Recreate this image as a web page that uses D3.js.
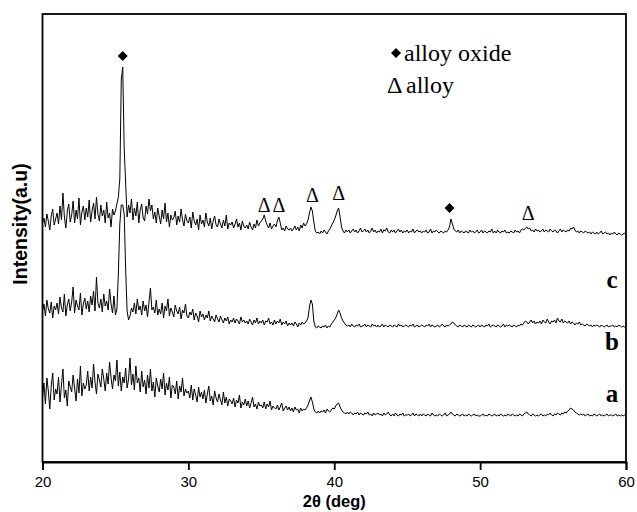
<!DOCTYPE html>
<html>
<head>
<meta charset="utf-8">
<script src="https://cdn.jsdelivr.net/npm/d3@7"></script>
<style>
  html, body { margin: 0; padding: 0; background: #fff; }
  svg { display: block; }
</style>
</head>
<body>
<svg id="chart" width="637" height="512"></svg>
<script>
// ---- data (intensity in a.u., curves already stacked) ----
const thetaStart = 20, thetaStep = 0.1; // sampling grid of the diffractograms
const seriesC = [
226,231,222,235,228,219,233,240,224,230,
236,225,243,229,256,232,221,238,245,227,
234,248,226,239,230,251,224,237,243,229,
241,232,249,227,238,246,230,252,235,228,
244,233,239,226,247,231,236,222,240,234,
238,245,252,270,369,382,300,266,232,244,
236,250,229,241,233,247,226,239,245,231,
228,243,235,250,238,244,230,237,226,241,
233,225,239,230,246,227,236,222,234,229,
231,238,224,233,227,240,229,223,235,228,
226,232,221,237,228,224,230,219,234,225,
229,222,236,227,223,231,220,228,233,224,
222,230,225,221,229,223,234,220,226,224,
227,221,225,230,222,226,219,228,223,221,
224,220,227,222,219,225,221,229,223,226,
228,230,234,228,224,221,226,220,223,225,
222,228,232,226,219,221,218,223,220,219,
221,218,220,223,219,222,218,224,221,226,
223,225,229,236,242,238,227,218,216,217,
215,218,216,219,217,215,218,220,223,226,
229,233,238,241,232,222,218,216,219,217,
219,216,218,220,217,219,216,218,221,217,
218,220,217,219,216,218,221,217,219,216,
218,217,220,216,219,218,221,217,216,219,
217,219,216,218,220,217,219,216,218,217,
219,216,218,217,220,216,218,219,217,218,
216,218,217,219,216,217,220,216,218,217,
219,217,216,218,217,216,218,217,219,222,
230,225,220,218,217,219,216,218,217,216,
218,217,216,219,217,218,216,217,219,216,
217,219,216,218,217,216,218,217,220,216,
218,216,219,217,216,218,217,219,216,217,
216,218,217,216,219,217,218,216,219,220,
219,221,222,220,221,218,219,217,220,218,
219,217,218,220,217,219,218,217,220,218,
217,219,218,216,218,220,217,219,218,217,
219,218,221,220,222,219,217,218,216,218,
217,216,218,217,216,217,215,217,216,215,
217,215,216,218,215,216,217,215,216,214,
216,215,217,215,214,216,215,214,215,216,
214];
const seriesB = [
138,145,133,149,140,136,147,131,143,139,
146,135,152,141,137,155,133,144,150,138,
147,162,136,149,143,139,156,134,145,151,
140,148,137,153,144,158,138,172,146,141,
150,137,155,143,148,139,160,145,136,153,
134,140,175,225,244,244,235,180,138,129,
133,141,137,146,135,150,139,143,134,148,
138,144,132,147,161,139,142,136,149,134,
140,135,146,131,143,138,150,133,141,137,
132,144,138,135,142,130,139,136,145,133,
131,137,134,140,129,136,133,127,138,132,
135,129,134,131,138,128,133,130,127,134,
130,127,133,129,126,131,128,132,125,129,
127,131,126,130,128,125,132,127,129,126,
128,125,130,127,124,129,126,131,125,128,
126,129,124,128,127,131,125,127,124,129,
125,128,126,130,124,127,125,128,123,126,
124,126,123,127,125,122,126,124,127,125,
126,128,131,142,149,145,128,122,121,123,
122,121,123,122,124,121,123,122,125,127,
129,131,135,139,136,131,128,126,124,123,
124,122,125,123,122,124,123,125,122,123,
123,125,122,124,123,122,125,123,124,122,
124,122,123,125,122,124,123,122,124,123,
122,124,123,122,125,123,124,122,123,124,
123,122,124,123,125,122,123,124,122,123,
124,123,122,124,123,125,122,124,123,122,
123,124,122,123,125,123,122,124,123,124,
125,127,126,124,123,122,124,123,122,124,
123,122,124,123,122,124,123,122,123,124,
122,124,123,122,124,123,125,122,123,124,
123,122,124,123,122,123,125,122,124,123,
124,123,122,124,123,122,124,123,125,124,
126,128,127,125,127,129,126,128,125,127,
126,128,125,129,127,126,130,127,125,128,
127,129,126,131,128,127,130,126,128,127,
126,128,125,127,126,124,126,125,127,124,
125,124,123,125,124,123,124,122,124,123,
124,123,122,124,123,122,123,124,122,123,
123,124,122,123,122,124,123,122,123,122,
123];
const seriesA = [
52,66,45,71,58,40,63,76,49,60,
55,72,47,64,80,51,59,43,68,62,
57,74,61,48,70,56,83,53,66,60,
64,78,58,72,61,85,67,55,75,69,
62,80,70,58,76,65,87,71,60,74,
68,89,63,77,58,72,66,81,61,70,
91,64,75,59,83,66,71,57,78,62,
69,55,74,61,80,58,67,52,71,63,
57,70,60,76,54,66,59,72,51,64,
62,55,68,50,63,57,71,53,60,56,
58,51,64,49,60,54,47,62,52,57,
50,59,46,55,63,48,53,44,58,51,
47,55,49,44,57,46,52,43,50,48,
45,51,42,49,46,54,41,47,44,50,
43,48,41,46,52,42,45,40,47,43,
44,41,47,40,45,42,48,39,43,41,
40,44,39,42,46,38,41,43,39,42,
38,41,37,42,39,40,36,41,38,40,
39,41,44,48,52,47,40,37,36,38,
36,38,37,39,36,40,38,37,39,41,
40,43,45,46,42,39,37,36,35,37,
35,37,36,34,36,35,37,34,36,35,
34,36,35,37,34,35,33,36,34,35,
36,34,35,33,36,34,35,37,34,33,
35,33,36,34,33,35,34,36,33,34,
34,35,33,34,36,33,35,34,33,35,
33,35,34,33,35,34,33,36,34,33,
34,33,35,34,33,34,36,33,34,35,
37,35,34,33,35,34,33,34,35,33,
34,33,35,34,33,34,35,33,34,33,
33,34,35,33,34,33,35,34,33,34,
35,33,34,33,35,34,33,34,33,35,
34,33,35,34,33,34,33,35,34,33,
35,36,37,35,34,33,35,34,33,34,
33,34,35,33,34,33,35,34,36,34,
33,35,34,36,35,34,36,35,37,36,
38,39,41,40,39,37,36,35,34,35,
34,35,33,34,35,33,34,33,35,34,
33,34,35,33,34,33,34,35,33,34,
34,33,34,35,33,34,33,34,33,34,
33];
const seriesNames = ["a", "b", "c"];
const seriesLabelLevel = [47, 99, 161];
const xTicks = [20, 30, 40, 50, 60];
// peak markers: "d" = alloy oxide (diamond), "t" = alloy (delta)
const markerTheta = [25.5, 35.2, 36.2, 38.5, 40.3, 47.9, 53.3];
const markerLevel = [393, 244, 244, 254, 256, 241, 236];
const markerType  = ["d", "t", "t", "t", "t", "d", "t"];
const legendItems = ["alloy oxide", "alloy"];

// ---- layout ----
const svg = d3.select("#chart");
const plotL = 42.5, plotR = 626, plotT = 14, plotB = 462;
const x = d3.scaleLinear().domain([20, 60]).range([plotL, plotR]);
const y = d3.scaleLinear().domain([-13, 435]).range([plotB, plotT]);

const line = d3.line()
  .x((d, i) => x(thetaStart + i * thetaStep))
  .y(d => y(d));

[seriesA, seriesB, seriesC].forEach(s => {
  svg.append("path")
    .attr("d", line(s))
    .attr("fill", "none")
    .attr("stroke", "#000")
    .attr("stroke-width", 1)
    .attr("stroke-linejoin", "round");
});

// frame
svg.append("rect")
  .attr("x", plotL).attr("y", plotT)
  .attr("width", plotR - plotL).attr("height", plotB - plotT)
  .attr("fill", "none").attr("stroke", "#000").attr("stroke-width", 1.8);

// x axis
const xAxis = d3.axisBottom(x).tickValues(xTicks).tickSize(8).tickPadding(6).tickFormat(d3.format("d"));
const gx = svg.append("g").attr("transform", `translate(0,${plotB})`).call(xAxis);
gx.select(".domain").attr("stroke-width", 1.8);
gx.selectAll(".tick line").attr("stroke-width", 1.8);
gx.selectAll(".tick text")
  .attr("font-family", "Liberation Sans, Arial, sans-serif")
  .attr("font-size", 15).attr("fill", "#000");

svg.append("text")
  .attr("x", (plotL + plotR) / 2).attr("y", 507)
  .attr("text-anchor", "middle")
  .attr("font-family", "Liberation Sans, Arial, sans-serif")
  .attr("font-weight", "bold").attr("font-size", 16.5)
  .text("2θ (deg)");

svg.append("text")
  .attr("transform", "translate(27,224) rotate(-90)")
  .attr("text-anchor", "middle")
  .attr("font-family", "Liberation Sans, Arial, sans-serif")
  .attr("font-weight", "bold").attr("font-size", 19.5)
  .text("Intensity(a.u)");

// series labels
seriesNames.forEach((n, i) => {
  svg.append("text")
    .attr("x", 612).attr("y", y(seriesLabelLevel[i]))
    .attr("text-anchor", "middle")
    .attr("font-family", "Liberation Serif, Times New Roman, serif")
    .attr("font-weight", "bold").attr("font-size", 25)
    .text(n);
});

// markers
const diamond = d3.symbol(d3.symbolSquare, 50);
markerTheta.forEach((t, i) => {
  if (markerType[i] === "d") {
    svg.append("path")
      .attr("d", diamond())
      .attr("transform", `translate(${x(t)},${y(markerLevel[i])}) rotate(45)`)
      .attr("fill", "#000");
  } else {
    svg.append("text")
      .attr("x", x(t)).attr("y", y(markerLevel[i]) + 7)
      .attr("text-anchor", "middle")
      .attr("font-family", "Liberation Serif, Times New Roman, serif")
      .attr("font-size", 20)
      .text("Δ");
  }
});

// legend
svg.append("path")
  .attr("d", diamond())
  .attr("transform", "translate(396,53) rotate(45)")
  .attr("fill", "#000");
svg.append("text")
  .attr("x", 404).attr("y", 61)
  .attr("font-family", "Liberation Serif, Times New Roman, serif")
  .attr("font-size", 24)
  .text(legendItems[0]);
svg.append("text")
  .attr("x", 387).attr("y", 93)
  .attr("font-family", "Liberation Serif, Times New Roman, serif")
  .attr("font-size", 24)
  .text("Δ");
svg.append("text")
  .attr("x", 406).attr("y", 93)
  .attr("font-family", "Liberation Serif, Times New Roman, serif")
  .attr("font-size", 24)
  .text(legendItems[1]);
</script>
</body>
</html>
